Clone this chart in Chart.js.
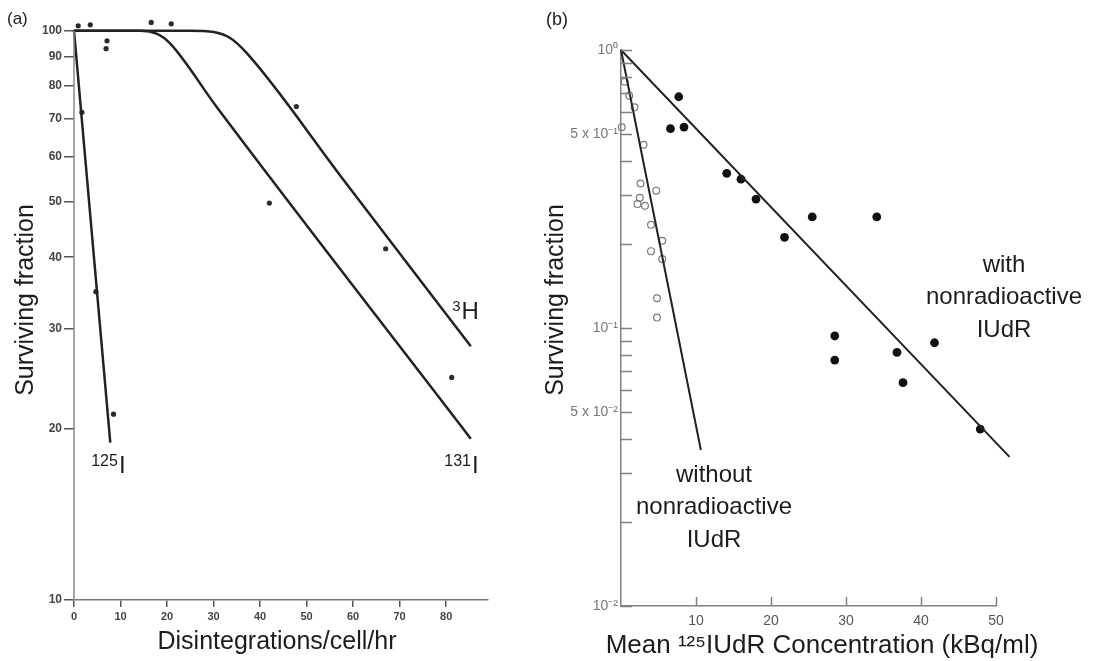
<!DOCTYPE html>
<html>
<head>
<meta charset="utf-8">
<script src="https://cdn.jsdelivr.net/npm/chart.js@4.4.0/dist/chart.umd.min.js"></script>
<style>
  body { margin: 0; background: #fff; }
  #wrap { position: relative; width: 1097px; height: 661px; overflow: hidden; }
  .panel { position: absolute; top: 0; }
  #panelA { left: 0; }
  #panelB { left: 540px; }
</style>
</head>
<body>
<div id="wrap">
  <div class="panel" id="panelA"><canvas id="chartA" width="540" height="661"></canvas></div>
  <div class="panel" id="panelB"><canvas id="chartB" width="557" height="661"></canvas></div>
</div>
<script>
// ---- (a) surviving fraction (%) vs disintegrations/cell/hr ----
const xTicksA = [0, 10, 20, 30, 40, 50, 60, 70, 80];
const yTicksA = [10, 20, 30, 40, 50, 60, 70, 80, 90, 100];

const plateauPts = [[0.9, 102], [3.5, 102.4], [7.1, 96], [6.9, 93], [16.6, 103.4], [20.9, 102.8]];
const i125Pts = [[1.7, 71.9], [4.7, 34.8], [8.5, 21.2]];
const i131Pts = [[42.0, 49.8], [81.2, 24.6]];
const h3Pts = [[47.8, 73.6], [67.0, 41.4]];

const i125Line = [[0, 100], [7.8, 18.9]];
const i131Line = [[0, 100], [14, 100], [18, 98.6], [20.6, 95.1], [30.6, 73.6], [85.3, 19.2]];
const h3Line = [[0, 100], [25, 100], [30, 99.5], [33.5, 97.2], [37.1, 91.4], [57.5, 55.3], [85.3, 27.9]];

// ---- (b) surviving fraction vs mean 125IUdR concentration ----
const xTicksB = [10, 20, 30, 40, 50];
const yTicksB = [0.01, 0.02, 0.03, 0.04, 0.05, 0.06, 0.07, 0.08, 0.09,
                 0.1, 0.2, 0.3, 0.4, 0.5, 0.6, 0.7, 0.8, 0.9, 1];
const yLabelsB = ['10⁻²', '', '', '', '5 x 10⁻²', '', '', '', '',
                  '10⁻¹', '', '', '', '5 x 10⁻¹', '', '', '', '', '10⁰'];

const withX = [7.7, 6.6, 8.4, 14.1, 16.0, 18.0, 21.8, 25.5, 34.1, 28.5, 28.5, 36.8, 37.6, 41.8, 47.9];
const withY = [0.679, 0.521, 0.528, 0.360, 0.343, 0.291, 0.212, 0.251, 0.251, 0.0936, 0.0767, 0.0817, 0.0636, 0.0885, 0.0433];
const withoutX = [0.5, 1.1, 1.8, 0.1, 3.0, 2.6, 4.7, 2.5, 2.2, 3.2, 4.0, 5.5, 4.0, 5.5, 4.8, 4.8];
const withoutY = [0.769, 0.685, 0.622, 0.527, 0.456, 0.331, 0.312, 0.294, 0.279, 0.275, 0.235, 0.206, 0.189, 0.177, 0.128, 0.109];

const withLine = [[0, 1], [51.8, 0.0344]];
const withoutLine = [[0, 1], [10.65, 0.0364]];

const FONT = '"Liberation Sans", Arial, sans-serif';
const toXY = arr => arr.map(([x, y]) => ({ x, y }));
const zipXY = (xs, ys) => xs.map((x, i) => ({ x, y: ys[i] }));

// text drawn on top of the chart: axis titles, panel letters, isotope labels
const textMarks = {
  id: 'textMarks',
  afterDraw(chart, args, opts) {
    const ctx = chart.ctx;
    (opts.items || []).forEach(it => {
      let px = it.px, py = it.py;
      if (it.x !== undefined) {
        px = chart.scales.x.getPixelForValue(it.x);
        py = chart.scales.y.getPixelForValue(it.y);
      }
      ctx.save();
      ctx.fillStyle = it.color || '#1c1c1c';
      ctx.translate(px, py);
      if (it.rotate) ctx.rotate(it.rotate);
      if (it.sup) {
        ctx.textAlign = 'left';
        ctx.textBaseline = 'alphabetic';
        ctx.font = `${it.supSize}px ${FONT}`;
        ctx.fillText(it.sup, 0, -it.raise);
        const w = ctx.measureText(it.sup).width;
        ctx.font = `${it.size}px ${FONT}`;
        ctx.fillText(it.text, w + 1, 0);
      } else {
        ctx.textAlign = it.align || 'center';
        ctx.textBaseline = 'middle';
        ctx.font = `${it.size}px ${FONT}`;
        ctx.fillText(it.text, 0, 0);
      }
      ctx.restore();
    });
  }
};

// panel (a): y axis line only runs from 10 to 100 (chart area is a bit taller so dots above 100 show)
const axisLineA = {
  id: 'axisLineA',
  afterDraw(chart) {
    const { ctx, chartArea, scales } = chart;
    const x = chartArea.left;
    ctx.save();
    ctx.strokeStyle = '#888';
    ctx.lineWidth = 1.5;
    ctx.beginPath();
    ctx.moveTo(x, scales.y.getPixelForValue(yTicksA[0]));
    ctx.lineTo(x, scales.y.getPixelForValue(yTicksA[yTicksA.length - 1]));
    ctx.stroke();
    ctx.restore();
  }
};

// panel (b) has its tick marks on the inside of the axes
const innerTicks = {
  id: 'innerTicks',
  afterDraw(chart) {
    const { ctx, chartArea, scales } = chart;
    ctx.save();
    ctx.strokeStyle = '#808080';
    ctx.lineWidth = 1.5;
    ctx.beginPath();
    scales.y.ticks.forEach(t => {
      const y = Math.round(scales.y.getPixelForValue(t.value)) + 0.5;
      ctx.moveTo(chartArea.left, y);
      ctx.lineTo(chartArea.left + 11, y);
    });
    scales.x.ticks.forEach(t => {
      const x = Math.round(scales.x.getPixelForValue(t.value)) + 0.5;
      ctx.moveTo(x, chartArea.bottom);
      ctx.lineTo(x, chartArea.bottom - 9);
    });
    ctx.stroke();
    ctx.restore();
  }
};

const lineSet = (pts, width) => ({
  data: toXY(pts), showLine: true, pointRadius: 0, borderColor: '#222',
  borderWidth: width, cubicInterpolationMode: 'monotone', clip: false
});
const dotSet = pts => ({
  data: toXY(pts), showLine: false, pointRadius: 2.6, pointBackgroundColor: '#2a2a2a',
  pointBorderWidth: 0, clip: false
});

new Chart(document.getElementById('chartA'), {
  type: 'scatter',
  data: {
    datasets: [
      lineSet(i125Line, 2.5), lineSet(i131Line, 2.5), lineSet(h3Line, 2.5),
      dotSet(plateauPts), dotSet(i125Pts), dotSet(i131Pts), dotSet(h3Pts)
    ]
  },
  options: {
    responsive: false,
    animation: false,
    layout: { padding: { top: 21, right: 52, left: 0, bottom: 0 } },
    plugins: {
      legend: { display: false },
      tooltip: { enabled: false },
      textMarks: {
        items: [
          { text: '(a)', px: 7, py: 19, size: 17, align: 'left' },
          { text: 'Surviving fraction', px: 26, py: 300, size: 25, rotate: -Math.PI / 2 },
          { text: 'Disintegrations/cell/hr', px: 277, py: 642, size: 25 },
          { text: 'H', sup: '3', x: 81.3, y: 31.1, size: 24, supSize: 15, raise: 8 },
          { text: 'I', sup: '131', x: 79.6, y: 16.7, size: 24, supSize: 16, raise: 7 },
          { text: 'I', sup: '125', x: 3.7, y: 16.7, size: 24, supSize: 16, raise: 7 }
        ]
      }
    },
    scales: {
      x: {
        type: 'linear', min: 0, max: 89,
        afterBuildTicks: s => { s.ticks = xTicksA.map(v => ({ value: v })); },
        afterFit: s => { s.height = 61; },
        grid: { drawOnChartArea: false, tickLength: 7, color: '#555', lineWidth: 1.5 },
        border: { color: '#777', width: 1.5 },
        ticks: { font: { family: FONT, size: 11, weight: 'bold' }, color: '#444', padding: 3, maxRotation: 0, autoSkip: false }
      },
      y: {
        type: 'logarithmic', min: 10, max: 104,
        afterBuildTicks: s => { s.ticks = yTicksA.map(v => ({ value: v })); },
        afterFit: s => { s.width = 74; },
        grid: { drawOnChartArea: false, tickLength: 10, color: '#555', lineWidth: 1.5 },
        border: { display: false },
        ticks: {
          font: { family: FONT, size: 12, weight: 'bold' }, color: '#444', padding: 2, autoSkip: false,
          callback: (v, i) => String(yTicksA[i])
        }
      }
    }
  },
  plugins: [textMarks, axisLineA]
});

new Chart(document.getElementById('chartB'), {
  type: 'scatter',
  data: {
    datasets: [
      lineSet(withLine, 2), lineSet(withoutLine, 2),
      { data: zipXY(withX, withY), showLine: false, pointRadius: 4.4, pointBackgroundColor: '#111', pointBorderWidth: 0, clip: false },
      { data: zipXY(withoutX, withoutY), showLine: false, pointRadius: 3.4, pointBackgroundColor: 'rgba(255,255,255,0)',
        pointBorderColor: '#7a7a7a', pointBorderWidth: 1.2, clip: false }
    ]
  },
  options: {
    responsive: false,
    animation: false,
    layout: { padding: { top: 50, right: 101, left: 0, bottom: 0 } },
    plugins: {
      legend: { display: false },
      tooltip: { enabled: false },
      textMarks: {
        items: [
          { text: '(b)', px: 6, py: 20, size: 18, align: 'left' },
          { text: 'Surviving fraction', px: 16, py: 300, size: 25, rotate: -Math.PI / 2 },
          { text: 'Mean ¹²⁵IUdR Concentration (kBq/ml)', px: 282, py: 646, size: 26 },
          { text: 'with', px: 464, py: 265, size: 24 },
          { text: 'nonradioactive', px: 464, py: 297.5, size: 24 },
          { text: 'IUdR', px: 464, py: 330, size: 24 },
          { text: 'without', px: 174, py: 475, size: 24 },
          { text: 'nonradioactive', px: 174, py: 507.5, size: 24 },
          { text: 'IUdR', px: 174, py: 540, size: 24 }
        ]
      }
    },
    scales: {
      x: {
        type: 'linear', min: 0, max: 50,
        afterBuildTicks: s => { s.ticks = xTicksB.map(v => ({ value: v })); },
        afterFit: s => { s.height = 55; },
        grid: { display: false, drawTicks: false },
        border: { color: '#808080', width: 1.5 },
        ticks: { font: { family: FONT, size: 14 }, color: '#555', padding: 7, maxRotation: 0, autoSkip: false }
      },
      y: {
        type: 'logarithmic', min: 0.01, max: 1,
        afterBuildTicks: s => { s.ticks = yTicksB.map(v => ({ value: v })); },
        afterFit: s => { s.width = 81; },
        grid: { display: false, drawTicks: false },
        border: { color: '#808080', width: 1.5 },
        ticks: {
          font: { family: FONT, size: 14 }, color: '#777', padding: 3, autoSkip: false,
          callback: (v, i) => yLabelsB[i]
        }
      }
    }
  },
  plugins: [textMarks, innerTicks]
});
</script>
</body>
</html>
